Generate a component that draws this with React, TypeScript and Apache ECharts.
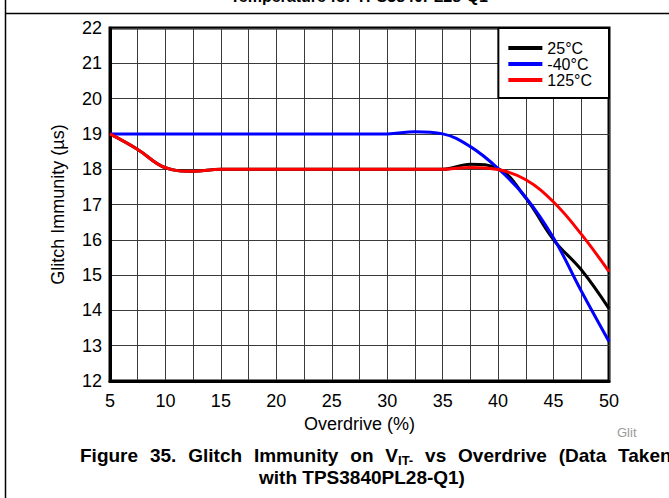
import React, { useEffect, useRef } from "react";
import * as echarts from "echarts";

// Overdrive (%) sample points
const overdrive = [5, 7.5, 10, 12.5, 15, 17.5, 20, 22.5, 25, 27.5, 30, 32.5, 35, 37.5, 40, 42.5, 45, 47.5, 50];
// Glitch immunity (µs)
const glitch25C = [19, 18.56, 18.04, 17.94, 18.0, 18, 18, 18, 18, 18, 18, 18, 18.0, 18.14, 18.02, 17.18, 16.0, 15.15, 14.05];
const glitchMinus40C = [19, 19, 19, 19, 19, 19, 19, 19, 19, 19, 19.0, 19.06, 19.0, 18.64, 18.02, 17.2, 16.05, 14.55, 13.12];
const glitch125C = [19, 18.56, 18.04, 17.94, 18.0, 18, 18, 18, 18, 18, 18, 18, 18.0, 18.05, 17.99, 17.7, 17.07, 16.16, 15.1];

const seriesNames = ["25°C", "-40°C", "125°C"];
const seriesColors = ["#000000", "#0000ff", "#ff0000"];

const xMin = 5;
const xMax = 50;
const xInterval = 5;
const yMin = 12;
const yMax = 22;
const yInterval = 1;

const yAxisTitle = "Glitch Immunity (µs)";
const xAxisTitle = "Overdrive (%)";
const topText = "Temperature for TPS3840PL28-Q1";
// caption line 1 is justified: words placed with widened spaces; "IT-" is a subscript after "V"
const captionWords = ["Figure", "35.", "Glitch", "Immunity", "on", "V", "vs", "Overdrive", "(Data", "Taken"];
const captionSubAfter = "V";
const captionSub = "IT-";
const captionLine2 = "with TPS3840PL28-Q1)";
const cornerText = "Glit";

const FONT = "'Liberation Sans', Arial, Helvetica, sans-serif";

function measure(text: string, font: string): number {
  const c = document.createElement("canvas").getContext("2d");
  if (!c) return text.length * 9;
  c.font = font;
  return c.measureText(text).width;
}

function textEl(text: string, x: number, y: number, font: string, fill: string, align: string) {
  return {
    type: "text",
    x,
    y,
    style: {
      text,
      font,
      fill,
      align,
      textAlign: align,
      verticalAlign: "middle",
      textVerticalAlign: "middle",
    },
  };
}

export default function App() {
  const ref = useRef<HTMLDivElement>(null);

  useEffect(() => {
    if (!ref.current) return;
    const chart = echarts.init(ref.current, undefined, { renderer: "svg" });

    const capFont = `bold 19px ${FONT}`;
    const subFont = `bold 13px ${FONT}`;
    const spaceW = measure(" ", capFont);
    const extraGap = 6.6;

    const captionEls: any[] = [];
    let cx = 80;
    captionWords.forEach((w) => {
      captionEls.push(textEl(w, cx, 455, capFont, "#000", "left"));
      cx += measure(w, capFont);
      if (w === captionSubAfter) {
        captionEls.push(textEl(captionSub, cx, 460, subFont, "#000", "left"));
        cx += measure(captionSub, subFont);
      }
      cx += spaceW + extraGap;
    });

    const allSeries = [glitch25C, glitchMinus40C, glitch125C];
    const axisFont = 18;

    chart.setOption({
      animation: false,
      backgroundColor: "#ffffff",
      textStyle: { fontFamily: FONT },
      grid: {
        left: 110,
        right: 60,
        top: 28,
        bottom: 117,
        show: true,
        borderColor: "#000",
        borderWidth: 3,
        backgroundColor: "transparent",
      },
      legend: {
        data: seriesNames,
        orient: "vertical",
        right: 60,
        top: 28,
        icon: "rect",
        itemWidth: 34,
        itemHeight: 4,
        itemGap: 0,
        padding: [12, 17, 10, 10],
        backgroundColor: "#ffffff",
        borderColor: "#000",
        borderWidth: 2,
        borderRadius: 0,
        textStyle: { fontSize: 16, color: "#000", lineHeight: 16, fontFamily: FONT },
      },
      xAxis: {
        type: "value",
        min: xMin,
        max: xMax,
        interval: xInterval,
        name: xAxisTitle,
        nameLocation: "middle",
        nameGap: 31,
        nameTextStyle: { fontSize: axisFont, color: "#000", fontFamily: FONT },
        axisLine: { show: true, lineStyle: { color: "#000", width: 3 } },
        axisTick: { show: false },
        axisLabel: { fontSize: axisFont, color: "#000", margin: 11, fontFamily: FONT },
        splitLine: { show: true, lineStyle: { color: "#3a3a3a", width: 1 } },
        minorTick: { show: false, splitNumber: 2 },
        minorSplitLine: { show: true, lineStyle: { color: "#3a3a3a", width: 1 } },
      },
      yAxis: {
        type: "value",
        min: yMin,
        max: yMax,
        interval: yInterval,
        name: yAxisTitle,
        nameLocation: "middle",
        nameGap: 43,
        nameRotate: 90,
        nameTextStyle: { fontSize: axisFont, color: "#000", fontFamily: FONT },
        axisLine: { show: true, lineStyle: { color: "#000", width: 3 } },
        axisTick: { show: false },
        axisLabel: { fontSize: axisFont, color: "#000", margin: 8, fontFamily: FONT },
        splitLine: { show: true, lineStyle: { color: "#3a3a3a", width: 1 } },
      },
      series: allSeries.map((vals, i) => ({
        name: seriesNames[i],
        type: "line",
        data: overdrive.map((x, j) => [x, vals[j]]),
        smooth: 0.4,
        showSymbol: false,
        symbol: "none",
        lineStyle: { color: seriesColors[i], width: 3 },
        itemStyle: { color: seriesColors[i] },
        z: 2 + i,
      })),
      graphic: [
        {
          type: "line",
          shape: { x1: 5.5, y1: 0, x2: 5.5, y2: 498 },
          style: { stroke: "#000", lineWidth: 1.5 },
        },
        {
          type: "line",
          shape: { x1: 5, y1: 13.5, x2: 669, y2: 13.5 },
          style: { stroke: "#000", lineWidth: 1.5 },
        },
        {
          type: "text",
          x: 359,
          y: 4,
          style: {
            text: topText,
            font: `bold 16px ${FONT}`,
            fill: "#000",
            align: "center",
            textAlign: "center",
            verticalAlign: "bottom",
            textVerticalAlign: "bottom",
          },
        },
        textEl(cornerText, 617, 432, `13px ${FONT}`, "#9a9a9a", "left"),
        ...captionEls,
        textEl(captionLine2, 362, 477, capFont, "#000", "center"),
      ],
    });

    return () => {
      chart.dispose();
    };
  }, []);

  return (
    <div
      ref={ref}
      style={{ position: "fixed", left: 0, top: 0, width: 669, height: 498, background: "#fff" }}
    />
  );
}
